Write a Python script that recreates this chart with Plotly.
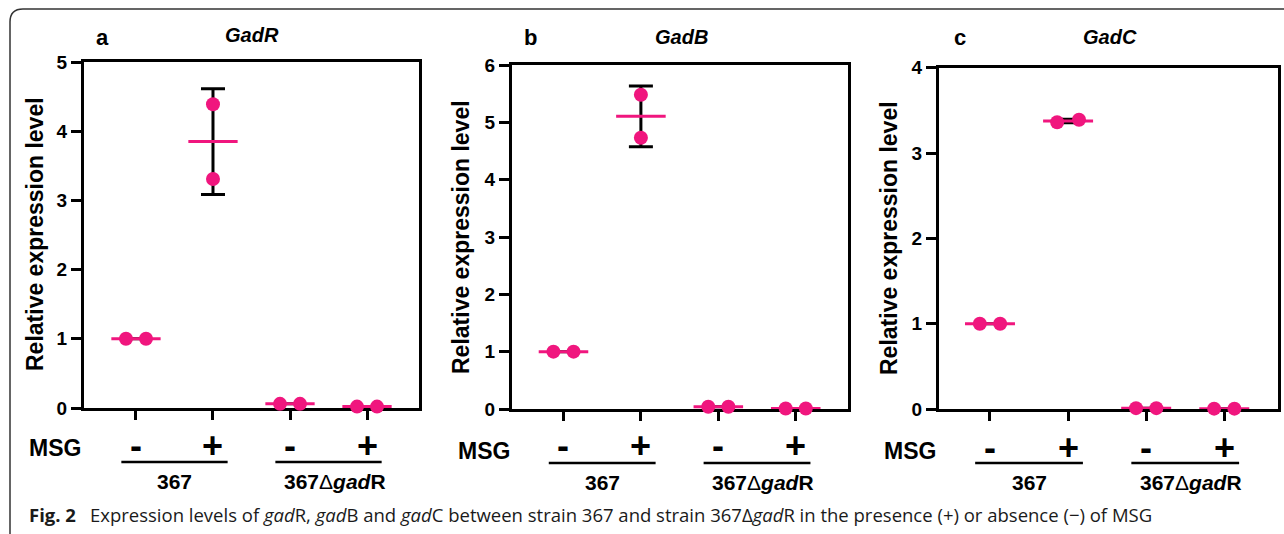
import plotly.graph_objects as go
import numpy as np

W, H = 1284, 534
PINK = "#F0167E"
AXFONT = "Liberation Sans"

# ---------------- data ----------------
groups = ["367 MSG-", "367 MSG+", "367ΔgadR MSG-", "367ΔgadR MSG+"]
msg_labels = ["-", "+", "-", "+"]
strain_labels = ["<b>367</b>", "<b>367</b>Δ<b><i>gad</i>R</b>"]
panel_letters = ["a", "b", "c"]
panel_titles = ["GadR", "GadB", "GadC"]

gadR_values = [[1.00, 1.00], [4.39, 3.31], [0.06, 0.06], [0.02, 0.02]]
gadB_values = [[1.00, 1.00], [5.48, 4.73], [0.04, 0.04], [0.01, 0.01]]
gadC_values = [[1.00, 1.00], [3.36, 3.39], [0.01, 0.01], [0.004, 0.004]]

gadR_ticks = [0, 1, 2, 3, 4, 5]
gadB_ticks = [0, 1, 2, 3, 4, 5, 6]
gadC_ticks = [0, 1, 2, 3, 4]

caption = ("<b>Fig. 2</b>\u2002 Expression levels of <i>gad</i>R, <i>gad</i>B and <i>gad</i>C "
           "between strain 367 and strain 367Δ<i>gad</i>R in the presence (+) or absence (−) of MSG")

# ---------------- layout constants (pixels) ----------------
def fx(px):
    return px / W

def fy(py):
    return 1 - py / H

panels = [
    dict(vals=gadR_values, ticks=gadR_ticks, box=(84, 419, 62, 408), xr=[-0.675, 3.675],
         jit=[[-0.13, 0.13], [0, 0], [-0.13, 0.13], [-0.13, 0.13]],
         letter=(102, 37), title=(252, 35), ylab=(35, 234), msg=(55, 448), pm_y=445,
         line_y=462, strain_y=481),
    dict(vals=gadB_values, ticks=gadB_ticks, box=(512, 848, 65, 409), xr=[-0.665, 3.675],
         jit=[[-0.13, 0.13], [0, 0], [-0.13, 0.13], [-0.13, 0.13]],
         letter=(530, 38), title=(681, 37), ylab=(461, 237), msg=(484, 451), pm_y=445,
         line_y=463, strain_y=482),
    dict(vals=gadC_values, ticks=gadC_ticks, box=(939, 1278, 67.7, 409), xr=[-0.653, 3.688],
         jit=[[-0.13, 0.13], [-0.14, 0.14], [-0.13, 0.13], [-0.13, 0.13]],
         letter=(960, 37), title=(1110, 37), ylab=(889, 238), msg=(910, 451), pm_y=447,
         line_y=463, strain_y=482),
]

fig = go.Figure()
annotations = []
shapes = []

def ann(text, x, y, xref="paper", size=20, family=AXFONT, angle=0, xanchor="center", color="black"):
    return dict(text=text, x=x, y=y, xref=xref, yref="paper", showarrow=False,
                xanchor=xanchor, yanchor="middle", textangle=angle,
                font=dict(family=family, size=size, color=color))

for i, p in enumerate(panels):
    n = "" if i == 0 else str(i + 1)
    xa, ya = "x" + n, "y" + n
    x0, x1, yt, yb = p["box"]
    cats = np.arange(len(groups))
    vals = p["vals"]
    means = [float(np.mean(v)) for v in vals]
    sds = [float(np.std(v, ddof=1)) for v in vals]

    # error bars (SD)
    fig.add_trace(go.Scatter(
        x=cats, y=means, mode="markers", xaxis=xa, yaxis=ya,
        marker=dict(size=1, color="rgba(0,0,0,0)"),
        error_y=dict(type="data", array=sds, visible=True, color="black", thickness=3, width=12),
        cliponaxis=False, hoverinfo="skip"))
    # mean lines
    mx, my = [], []
    for c, m in zip(cats, means):
        mx += [c - 0.32, c + 0.32, None]
        my += [m, m, None]
    fig.add_trace(go.Scatter(x=mx, y=my, mode="lines", xaxis=xa, yaxis=ya,
                             line=dict(color=PINK, width=3), cliponaxis=False, hoverinfo="skip"))
    # individual points
    px_, py_ = [], []
    for c, v, j in zip(cats, vals, p["jit"]):
        for vv, jj in zip(v, j):
            px_.append(c + jj)
            py_.append(vv)
    fig.add_trace(go.Scatter(x=px_, y=py_, mode="markers", xaxis=xa, yaxis=ya,
                             marker=dict(size=14, color=PINK, line=dict(width=0)),
                             cliponaxis=False))

    ymax = p["ticks"][-1]
    fig.update_layout(**{
        "xaxis" + n: dict(domain=[fx(x0), fx(x1)], range=p["xr"], anchor=ya, automargin=False,
                          showline=True, mirror=True, linewidth=3, linecolor="black",
                          ticks="outside", tickvals=list(cats), ticklen=9, tickwidth=3,
                          tickcolor="black", showticklabels=False, showgrid=False,
                          zeroline=False, layer="below traces", fixedrange=True),
        "yaxis" + n: dict(domain=[fy(yb), fy(yt)], range=[0, ymax], anchor=xa, automargin=False,
                          showline=True, mirror=True, linewidth=3, linecolor="black",
                          ticks="outside", tickvals=p["ticks"], ticklen=10, tickwidth=3,
                          tickcolor="black", showgrid=False, zeroline=False,
                          tickfont=dict(family=AXFONT, size=19, color="black", weight="bold"),
                          layer="below traces", fixedrange=True),
    })

    annotations.append(ann("<b>" + panel_letters[i] + "</b>", fx(p["letter"][0]), fy(p["letter"][1]), size=22))
    annotations.append(ann("<b><i>" + panel_titles[i] + "</i></b>", fx(p["title"][0]), fy(p["title"][1]), size=20))
    annotations.append(ann("<b>Relative expression level</b>", fx(p["ylab"][0]), fy(p["ylab"][1]),
                           size=23, angle=-90))
    annotations.append(ann("<b>MSG</b>", fx(p["msg"][0]), fy(p["msg"][1]), size=23))
    for c, s in zip(cats, msg_labels):
        annotations.append(ann("<b>" + s + "</b>", int(c), fy(p["pm_y"]), xref=xa, size=36))
    for g, lab in enumerate(strain_labels):
        mid = (cats[2 * g] + cats[2 * g + 1]) / 2
        shapes.append(dict(type="line", xref=xa, yref="paper", x0=mid - 0.69, x1=mid + 0.69,
                           y0=fy(p["line_y"]), y1=fy(p["line_y"]),
                           line=dict(color="black", width=2.5)))
        annotations.append(ann(lab, float(mid) + (0.08 if g == 1 else 0), fy(p["strain_y"]),
                               xref=xa, size=21))

# caption
annotations.append(ann(caption, fx(27), fy(514), size=18.5, family="Open Sans",
                       xanchor="left", color="#1a1a1a"))

# frame with rounded top-left corner
path = (f"M {fx(10)},{fy(540)} L {fx(10)},{fy(22)} Q {fx(10)},{fy(9)} {fx(23)},{fy(9)} "
        f"L {fx(1290)},{fy(9)}")
shapes.append(dict(type="path", path=path, xref="paper", yref="paper",
                   line=dict(color="#333333", width=1.5)))

fig.update_layout(width=W, height=H, margin=dict(l=0, r=0, t=0, b=0, autoexpand=False),
                  paper_bgcolor="white", plot_bgcolor="white", showlegend=False,
                  annotations=annotations, shapes=shapes)

fig.write_html("out.html")
